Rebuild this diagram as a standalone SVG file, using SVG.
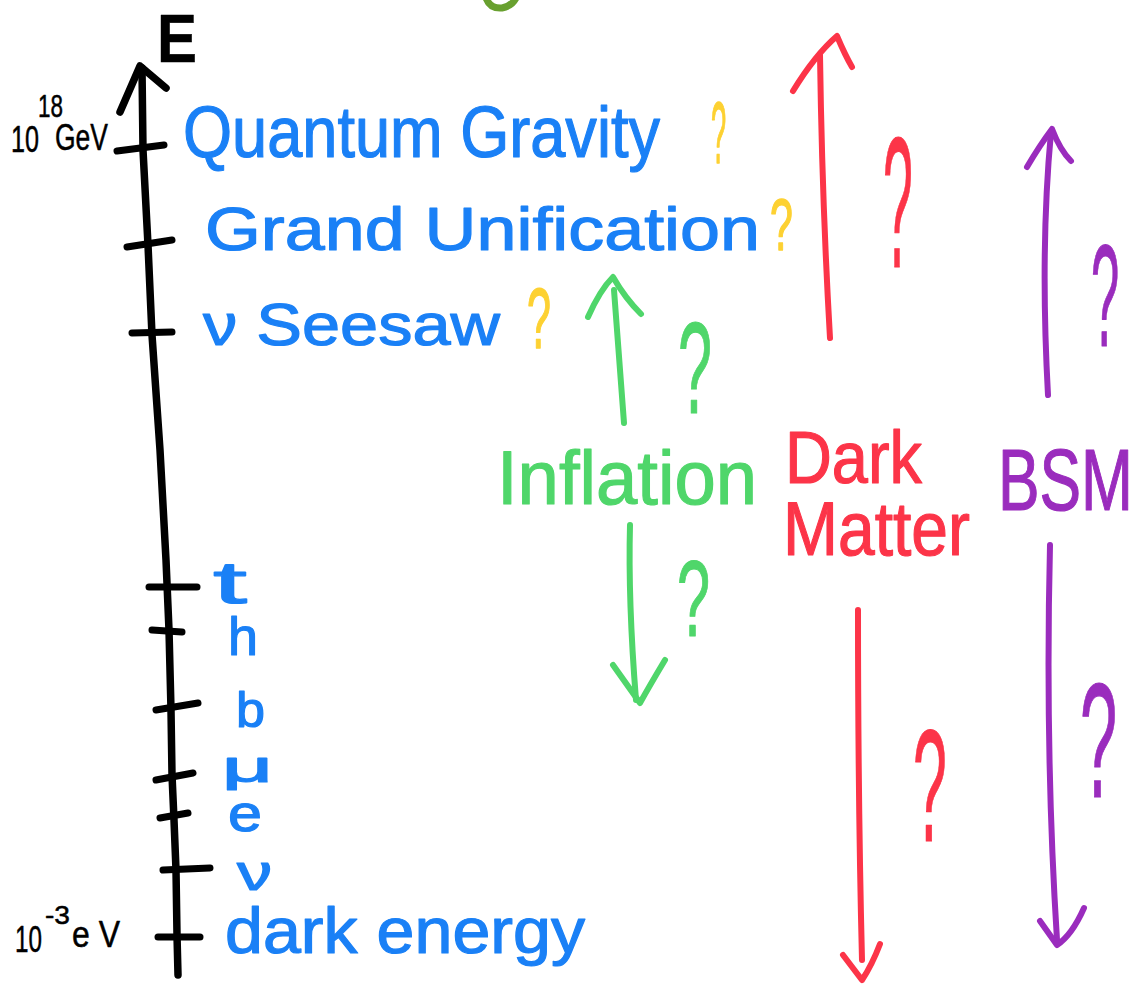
<svg xmlns="http://www.w3.org/2000/svg" width="1143" height="985" viewBox="0 0 1143 985">
<style>
.t{font-family:"Liberation Sans",Arial,sans-serif;stroke-linejoin:round}
.blue{fill:#1a80f6;stroke:#1a80f6;stroke-width:1.2}
.blk{fill:#000;stroke:#000;stroke-width:0.5}
.yel{fill:#fdd132;stroke:#fdd132;stroke-width:1.5}
.grn{fill:#4fd66a;stroke:#4fd66a;stroke-width:1.2}
.red{fill:#fc3448;stroke:#fc3448;stroke-width:1.2}
.pur{fill:#9a2cbd;stroke:#9a2cbd;stroke-width:1.2}
.ln{fill:none;stroke-linecap:round;stroke-linejoin:round}
.axis{stroke:#000;stroke-width:7.5}
.tick{stroke:#000;stroke-width:7}
.ga{stroke:#4fd66a;stroke-width:6}
.ra{stroke:#fc3448;stroke-width:6}
.pa{stroke:#9a2cbd;stroke-width:6}
</style>
<rect width="1143" height="985" fill="#fff"/>
<path class="ln" d="M486,-2 Q490,9 502,8 Q512,6 516,-2" stroke="#68a02f" stroke-width="7"/>

<g id="axis">
<path class="ln axis" d="M142,68 L143,150 L148,245 L152,335 L160,450 L166,560 L169,630 L171,710 L172,775 L174,820 L176,870 L177,935 L178,975"/>
<path class="ln axis" d="M120,112 L140,66 L166,88" stroke-width="9"/>
<path class="ln tick" d="M117,151 L164,145"/>
<path class="ln tick" d="M127,247 L172,240"/>
<path class="ln tick" d="M132,333 L172,332"/>
<path class="ln tick" d="M149,587 L197,587"/>
<path class="ln tick" d="M152,630 L182,632"/>
<path class="ln tick" d="M156,710 L198,703"/>
<path class="ln tick" d="M156,780 L193,773"/>
<path class="ln tick" d="M160,818 L188,813"/>
<path class="ln tick" d="M163,870 L210,868"/>
<path class="ln tick" d="M158,937 L200,937"/>
<text class="t blk" x="157" y="62" font-size="68" font-weight="bold" textLength="40" lengthAdjust="spacingAndGlyphs">E</text>
</g>

<g id="scale-top">
<text class="t blk" x="11" y="152" font-size="36" textLength="28" lengthAdjust="spacingAndGlyphs">10</text>
<text class="t blk" x="38" y="117" font-size="32" textLength="25" lengthAdjust="spacingAndGlyphs">18</text>
<text class="t blk" x="55" y="150" font-size="36" textLength="53" lengthAdjust="spacingAndGlyphs">GeV</text>
</g>
<g id="scale-bottom">
<text class="t blk" x="15" y="952" font-size="36" textLength="27" lengthAdjust="spacingAndGlyphs">10</text>
<text class="t blk" x="45" y="924" font-size="26" textLength="25" lengthAdjust="spacingAndGlyphs">-3</text>
<text class="t blk" x="72" y="947" font-size="36" textLength="48" lengthAdjust="spacingAndGlyphs">e V</text>
</g>

<g id="quantum-gravity">
<text class="t blue" x="183" y="157" font-size="72" textLength="477" lengthAdjust="spacingAndGlyphs">Quantum Gravity</text>
<text class="t yel" transform="translate(711,163) scale(0.31,1)" font-size="88">?</text>
</g>
<g id="grand-unification">
<text class="t blue" x="205" y="250" font-size="62" textLength="555" lengthAdjust="spacingAndGlyphs">Grand Unification</text>
<text class="t yel" transform="translate(770,250) scale(0.57,1)" font-size="72">?</text>
</g>
<g id="nu-seesaw">
<text class="t blue" x="203" y="345" font-size="60" textLength="297" lengthAdjust="spacingAndGlyphs">ν Seesaw</text>
<text class="t yel" transform="translate(527,348) scale(0.5,1)" font-size="86">?</text>
</g>
<g id="top-quark"><text class="t blue" x="213" y="603" font-size="60" textLength="34" lengthAdjust="spacingAndGlyphs">t</text></g>
<g id="higgs"><text class="t blue" x="228" y="655" font-size="54" textLength="30" lengthAdjust="spacingAndGlyphs">h</text></g>
<g id="bottom-quark"><text class="t blue" x="236" y="727" font-size="50" textLength="29" lengthAdjust="spacingAndGlyphs">b</text></g>
<g id="muon"><text class="t blue" x="222" y="782" font-size="44" textLength="51" lengthAdjust="spacingAndGlyphs">μ</text></g>
<g id="electron"><text class="t blue" x="228" y="831" font-size="52" textLength="34" lengthAdjust="spacingAndGlyphs">e</text></g>
<g id="neutrino"><text class="t blue" x="237" y="890" font-size="50" textLength="35" lengthAdjust="spacingAndGlyphs">ν</text></g>
<g id="dark-energy"><text class="t blue" x="225" y="953" font-size="64" textLength="360" lengthAdjust="spacingAndGlyphs">dark energy</text></g>

<g id="inflation">
<text class="t grn" x="497" y="504" font-size="76" textLength="260" lengthAdjust="spacingAndGlyphs">Inflation</text>
<text class="t grn" transform="translate(678,413) scale(0.47,1)" font-size="130">?</text>
<text class="t grn" transform="translate(677,636) scale(0.55,1)" font-size="108">?</text>
</g>
<g id="dark-matter">
<text class="t red" x="785" y="483" font-size="74" textLength="137" lengthAdjust="spacingAndGlyphs">Dark</text>
<text class="t red" x="783" y="555" font-size="76" textLength="187" lengthAdjust="spacingAndGlyphs">Matter</text>
<text class="t red" transform="translate(883,267) scale(0.29,1)" font-size="185">?</text>
<text class="t red" transform="translate(913,841) scale(0.38,1)" font-size="160">?</text>
</g>
<g id="bsm">
<text class="t pur" x="998" y="510" font-size="88" textLength="135" lengthAdjust="spacingAndGlyphs">BSM</text>
<text class="t pur" transform="translate(1091,346) scale(0.35,1)" font-size="145">?</text>
<text class="t pur" transform="translate(1080,797) scale(0.41,1)" font-size="163">?</text>
</g>

<g id="connectors">
<path class="ln ga" d="M624,423 L614,290"/>
<path class="ln ga" d="M588,317 Q600,290 613,277 Q625,298 641,314"/>
<path class="ln ga" d="M630,525 Q628,600 636,700"/>
<path class="ln ga" d="M613,665 L640,703 Q650,685 665,660"/>
<path class="ln ra" d="M830,338 Q822,200 820,55"/>
<path class="ln ra" d="M793,91 Q815,55 837,36 Q845,55 852,67"/>
<path class="ln ra" d="M858,610 Q858,800 862,960"/>
<path class="ln ra" d="M843,955 L862,980 Q872,965 880,944"/>
<path class="ln pa" d="M1048,395 Q1040,250 1051,132"/>
<path class="ln pa" d="M1027,167 Q1040,145 1052,129 Q1060,150 1071,161"/>
<path class="ln pa" d="M1050,545 Q1045,750 1057,940"/>
<path class="ln pa" d="M1040,921 L1057,945 Q1072,935 1084,908"/>
</g>
</svg>
